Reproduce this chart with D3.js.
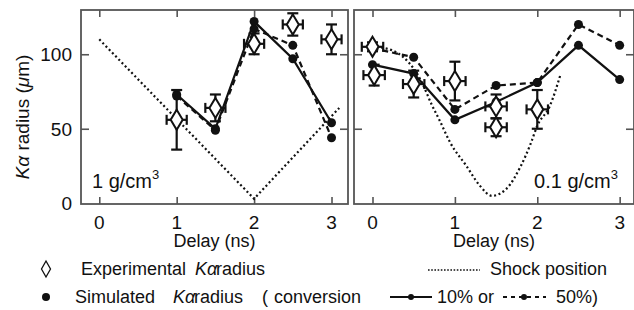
<!DOCTYPE html>
<html>
<head>
<meta charset="utf-8">
<script src="https://cdn.jsdelivr.net/npm/d3@7"></script>
<style>
  body { margin: 0; background: #fff; }
  text { font-family: "Liberation Sans", Arial, sans-serif; fill: #111; }
</style>
</head>
<body>
<script>
// ---- data ----
var xTicks = [0, 1, 2, 3];
var yTicks = [0, 50, 100];

// 1 g/cm3 panel
var leftSimDelay = [1, 1.5, 2, 2.5, 3];
var left10 = [73, 50, 122, 97, 54];
var left50 = [72, 49, 117, 106, 44];
var leftExpDelay = [1, 1.5, 2, 2.5, 3];
var leftExp = [56, 64, 107, 120, 110];
var leftExpErr = [20, 9, 7, 7.5, 10];
var leftShockDelay = [0, 2, 3.1];
var leftShock = [110, 3, 64];

// 0.1 g/cm3 panel
var rightSimDelay = [0, 0.5, 1, 1.5, 2, 2.5, 3];
var right10 = [93, 87, 56, 68, 81, 106, 83];
var right50 = [104, 98, 63, 79, 81, 120, 106];
var rightExpDelay = [0, 0.02, 0.5, 1, 1.5, 1.5, 2];
var rightExp = [105, 86, 80, 82, 65, 51, 63];
var rightExpErr = [3, 7, 9, 13, 8, 6, 13];
var rightShockDelay = [0.05, 0.3, 0.6, 0.72, 0.82, 0.94, 1.14, 1.3, 1.45, 1.63, 1.8, 1.92, 2.0, 2.15, 2.28];
var rightShock = [105, 101, 81, 66, 55, 41, 25, 12, 5, 10, 25, 40, 52, 65, 86];

var delayErr = 0.13; // horizontal error bar half-width (ns)

var svgWidth = 634, svgHeight = 310;
var svg = d3.select("body").append("svg")
  .attr("width", svgWidth)
  .attr("height", svgHeight);

var plotTop = 10, plotBottom = 204;
var yScale = d3.scaleLinear().domain([-0.5, 129.7]).range([plotBottom, plotTop]);

var panels = [
  { x0: 81, x1: 348, dom: [-0.236, 3.213], label: "1 g/cm", labelX: 92, labelAnchor: "start",
    simT: leftSimDelay, s10: left10, s50: left50,
    expT: leftExpDelay, exp: leftExp, err: leftExpErr,
    shockT: leftShockDelay, shock: leftShock, curve: d3.curveLinear },
  { x0: 354, x1: 634, dom: [-0.2245, 3.174], label: "0.1 g/cm", labelX: 618, labelAnchor: "end",
    simT: rightSimDelay, s10: right10, s50: right50,
    expT: rightExpDelay, exp: rightExp, err: rightExpErr,
    shockT: rightShockDelay, shock: rightShock, curve: d3.curveMonotoneX }
];

var frameColor = "#555";

panels.forEach(function (p) {
  var x = d3.scaleLinear().domain(p.dom).range([p.x0, p.x1]);
  var g = svg.append("g");

  // inward ticks on all four sides
  g.append("g").attr("transform", "translate(0," + plotBottom + ")")
    .call(d3.axisBottom(x).tickValues(xTicks).tickSizeInner(-7).tickSizeOuter(0).tickFormat(""));
  g.append("g").attr("transform", "translate(0," + plotTop + ")")
    .call(d3.axisTop(x).tickValues(xTicks).tickSizeInner(-7).tickSizeOuter(0).tickFormat(""));
  g.append("g").attr("transform", "translate(" + p.x0 + ",0)")
    .call(d3.axisLeft(yScale).tickValues(yTicks.slice(1)).tickSizeInner(-8).tickSizeOuter(0).tickFormat(""));
  g.append("g").attr("transform", "translate(" + p.x1 + ",0)")
    .call(d3.axisRight(yScale).tickValues(yTicks.slice(1)).tickSizeInner(-8).tickSizeOuter(0).tickFormat(""));
  g.selectAll(".domain").remove();
  g.selectAll(".tick line").attr("stroke", frameColor).attr("stroke-width", 1.6);

  g.append("rect")
    .attr("x", p.x0).attr("y", plotTop)
    .attr("width", p.x1 - p.x0).attr("height", plotBottom - plotTop)
    .attr("fill", "none").attr("stroke", frameColor).attr("stroke-width", 1.8);

  // x tick labels
  g.selectAll(".xl").data(xTicks).enter().append("text")
    .attr("x", function (d) { return x(d); })
    .attr("y", 229)
    .attr("text-anchor", "middle")
    .style("font-size", "19px")
    .text(function (d) { return d; });

  g.append("text")
    .attr("x", (p.x0 + p.x1) / 2)
    .attr("y", 247)
    .attr("text-anchor", "middle")
    .style("font-size", "18px")
    .text("Delay (ns)");

  // shock position
  var shockLine = d3.line().curve(p.curve)
    .x(function (d, i) { return x(p.shockT[i]); })
    .y(function (d) { return yScale(d); });
  g.append("path").attr("d", shockLine(p.shock))
    .attr("fill", "none").attr("stroke", "#111")
    .attr("stroke-width", 2.2).attr("stroke-dasharray", "2,2.6");

  // simulated lines
  var simLine = d3.line()
    .x(function (d, i) { return x(p.simT[i]); })
    .y(function (d) { return yScale(d); });
  g.append("path").attr("d", simLine(p.s50))
    .attr("fill", "none").attr("stroke", "#111")
    .attr("stroke-width", 2.2).attr("stroke-dasharray", "6,4");
  g.append("path").attr("d", simLine(p.s10))
    .attr("fill", "none").attr("stroke", "#111").attr("stroke-width", 2.2);

  [p.s50, p.s10].forEach(function (s) {
    g.selectAll(null).data(s).enter().append("circle")
      .attr("cx", function (d, i) { return x(p.simT[i]); })
      .attr("cy", function (d) { return yScale(d); })
      .attr("r", 4.5).attr("fill", "#111");
  });

  // experimental points with error bars
  var ex = g.selectAll(".exp").data(p.exp).enter().append("g");
  ex.each(function (d, i) {
    var e = d3.select(this);
    var cx = x(p.expT[i]), cy = yScale(d);
    var yt = yScale(d + p.err[i]), yb = yScale(d - p.err[i]);
    var xl = x(p.expT[i] - delayErr), xr = x(p.expT[i] + delayErr);
    var st = function (sel) { return sel.attr("stroke", "#111").attr("stroke-width", 2.2); };
    st(e.append("line").attr("x1", cx).attr("x2", cx).attr("y1", yt).attr("y2", yb));
    st(e.append("line").attr("x1", cx - 5.5).attr("x2", cx + 5.5).attr("y1", yt).attr("y2", yt));
    st(e.append("line").attr("x1", cx - 5.5).attr("x2", cx + 5.5).attr("y1", yb).attr("y2", yb));
    st(e.append("line").attr("x1", xl).attr("x2", xr).attr("y1", cy).attr("y2", cy));
    st(e.append("line").attr("x1", xl).attr("x2", xl).attr("y1", cy - 5).attr("y2", cy + 5));
    st(e.append("line").attr("x1", xr).attr("x2", xr).attr("y1", cy - 5).attr("y2", cy + 5));
    e.append("path")
      .attr("d", "M" + cx + "," + (cy - 10) + "L" + (cx + 6) + "," + cy + "L" + cx + "," + (cy + 10) + "L" + (cx - 6) + "," + cy + "Z")
      .attr("fill", "#fff").attr("stroke", "#111").attr("stroke-width", 2);
  });

  // density label
  var lab = g.append("text")
    .attr("x", p.labelX).attr("y", 188)
    .attr("text-anchor", p.labelAnchor)
    .style("font-size", "20px");
  lab.append("tspan").text(p.label);
  lab.append("tspan").attr("dy", -9).style("font-size", "13px").text("3");
});

// y tick labels (left panel only)
svg.selectAll(".yl").data(yTicks).enter().append("text")
  .attr("x", 72)
  .attr("y", function (d) { return yScale(d) + 7; })
  .attr("text-anchor", "end")
  .style("font-size", "19px")
  .text(function (d) { return d; });

// y axis title
var ytl = svg.append("text")
  .attr("transform", "translate(29,117) rotate(-90)")
  .attr("text-anchor", "middle")
  .style("font-size", "19px");
ytl.append("tspan").style("font-style", "italic").text("K\u03b1");
ytl.append("tspan").text(" radius (");
ytl.append("tspan").style("font-style", "italic").text("\u03bc");
ytl.append("tspan").text("m)");

// legend
var leg = svg.append("g").style("font-size", "18px");
function legText(x, y, s, italic) {
  return leg.append("text").attr("x", x).attr("y", y)
    .style("font-style", italic ? "italic" : "normal").text(s);
}
leg.append("path")
  .attr("d", "M46,261L50.5,269L46,277L41.5,269Z")
  .attr("fill", "#fff").attr("stroke", "#111").attr("stroke-width", 1.3);
legText(81, 275, "Experimental");
legText(195, 275, "K\u03b1", true);
legText(216, 275, "radius");

leg.append("line").attr("x1", 428).attr("x2", 480).attr("y1", 270).attr("y2", 270)
  .attr("stroke", "#111").attr("stroke-width", 1.6).attr("stroke-dasharray", "1.6,1.6");
legText(490, 275, "Shock position");

leg.append("circle").attr("cx", 46).attr("cy", 297).attr("r", 4).attr("fill", "#111");
legText(75, 303, "Simulated");
legText(173, 303, "K\u03b1", true);
legText(194, 303, "radius");
legText(262, 303, "(");
legText(274, 303, "conversion");

leg.append("line").attr("x1", 390).attr("x2", 432).attr("y1", 297).attr("y2", 297)
  .attr("stroke", "#111").attr("stroke-width", 2);
leg.append("circle").attr("cx", 411).attr("cy", 297).attr("r", 3).attr("fill", "#111");
legText(437, 303, "10% or");
leg.append("line").attr("x1", 503).attr("x2", 546).attr("y1", 297).attr("y2", 297)
  .attr("stroke", "#111").attr("stroke-width", 2).attr("stroke-dasharray", "4,4");
leg.append("circle").attr("cx", 524).attr("cy", 297).attr("r", 3).attr("fill", "#111");
legText(556, 303, "50%)");
</script>
</body>
</html>
